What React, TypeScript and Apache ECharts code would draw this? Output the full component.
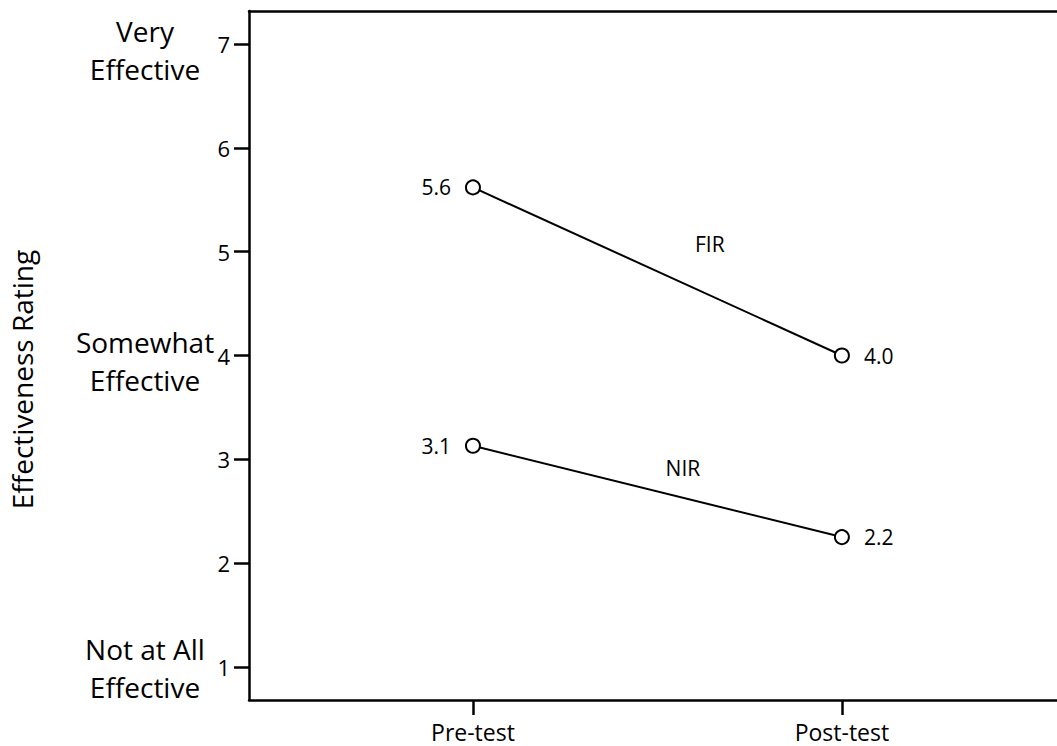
import React, { useEffect, useRef } from "react";
import * as echarts from "echarts";

const phases = ["Pre-test", "Post-test"];
const phasePositions = [1, 2];
const firValues = [5.62, 4.0];
const firLabels = ["5.6", "4.0"];
const nirValues = [3.13, 2.25];
const nirLabels = ["3.1", "2.2"];
const yTicks = [1, 2, 3, 4, 5, 6, 7];
const anchorValues = [7, 4, 1];
const anchorLines = [
  ["Very", "Effective"],
  ["Somewhat", "Effective"],
  ["Not at All", "Effective"],
];
const seriesNames = ["FIR", "NIR"];
const seriesNamePos = [
  [1.642, 5.07],
  [1.569, 2.915],
];

const FONT = "Open Sans";

export default function App() {
  const ref = useRef<HTMLDivElement>(null);
  useEffect(() => {
    const chart = echarts.init(ref.current!, null, { renderer: "svg" });
    const xMin = 0.393;
    const xMax = 2.583;
    const yMin = 0.68;
    const yMax = 7.32;
    const axisLine = { show: true, lineStyle: { color: "#000", width: 2.5 } };
    const anchorFont = { fontFamily: FONT, fontSize: 28, color: "#000", lineHeight: 38 };
    const shiftPad = [12, 10, 2];
    const rich: Record<string, any> = {};
    shiftPad.forEach((p, i) => {
      rich["a" + i] = { ...anchorFont, padding: [p, 0, 0, 0] };
    });
    const mkSeries = (name: string, vals: number[], labels: string[], namePos: number[]) => ({
      type: "line",
      name,
      data: vals.map((v, i) =>
        i === 1
          ? { value: [phasePositions[i], v], label: { position: "right", distance: 14 } }
          : { value: [phasePositions[i], v] }
      ),
      symbol: "circle",
      symbolSize: 14,
      lineStyle: { color: "#000", width: 2 },
      itemStyle: { color: "#fff", borderColor: "#000", borderWidth: 2 },
      label: {
        show: true,
        formatter: (p: any) => labels[p.dataIndex],
        position: "left",
        distance: 14,
        color: "#000",
        fontFamily: FONT,
        fontSize: 21,
      },
      markPoint: {
        symbol: "circle",
        symbolSize: 0,
        data: [{ coord: namePos, value: name }],
        label: {
          show: true,
          position: "inside",
          formatter: name,
          color: "#000",
          fontFamily: FONT,
          fontSize: 21,
        },
      },
    });
    chart.setOption({
      animation: false,
      backgroundColor: "#fff",
      textStyle: { fontFamily: FONT, color: "#000" },
      grid: { left: 249, top: 11, right: 0, bottom: 46, containLabel: false, outerBoundsMode: "none" },
      xAxis: [
        {
          type: "value",
          min: xMin,
          max: xMax,
          position: "bottom",
          axisLine,
          splitLine: { show: false },
          axisTick: { show: true, length: 15, customValues: phasePositions, lineStyle: { color: "#000", width: 2.5 } },
          axisLabel: {
            customValues: phasePositions,
            formatter: (v: number) => phases[phasePositions.indexOf(v)] ?? "",
            color: "#000",
            fontFamily: FONT,
            fontSize: 23,
            margin: 20,
          },
        },
        {
          type: "value",
          min: xMin,
          max: xMax,
          position: "top",
          axisLine,
          splitLine: { show: false },
          axisTick: { show: false },
          axisLabel: { show: false },
        },
      ],
      yAxis: [
        {
          type: "value",
          min: yMin,
          max: yMax,
          position: "left",
          axisLine,
          splitLine: { show: false },
          axisTick: { show: true, length: 15, customValues: yTicks, lineStyle: { color: "#000", width: 2.5 } },
          axisLabel: {
            customValues: yTicks,
            color: "#000",
            fontFamily: FONT,
            fontSize: 22,
            margin: 19,
          },
          name: "Effectiveness Rating",
          nameLocation: "middle",
          nameGap: 213,
          nameTextStyle: { fontFamily: FONT, fontSize: 28, color: "#000", padding: [0, 48, 0, 0] },
        },
        {
          type: "value",
          min: yMin,
          max: yMax,
          position: "left",
          axisLine: { show: false },
          splitLine: { show: false },
          axisTick: { show: false },
          axisLabel: {
            customValues: anchorValues,
            formatter: (v: number) => {
              const i = anchorValues.indexOf(v);
              if (i < 0) return "";
              return `{a${i}|${anchorLines[i][0]}}\n{a${i}|${anchorLines[i][1]}}`;
            },
            ...anchorFont,
            align: "center",
            margin: 104,
            rich,
          },
        },
      ],
      series: [
        mkSeries(seriesNames[0], firValues, firLabels, seriesNamePos[0]),
        mkSeries(seriesNames[1], nirValues, nirLabels, seriesNamePos[1]),
      ],
    });
    return () => chart.dispose();
  }, []);
  return (
    <div
      ref={ref}
      style={{ position: "fixed", left: 0, top: 0, width: 1057, height: 746, background: "#fff" }}
    />
  );
}
